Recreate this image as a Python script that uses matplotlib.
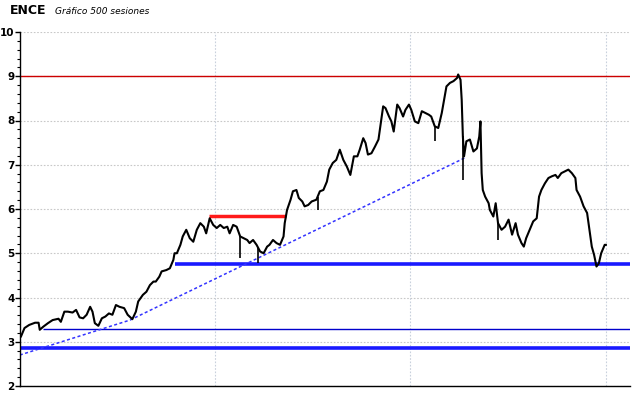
import numpy as np
import matplotlib.pyplot as plt
from matplotlib.ticker import MultipleLocator, NullFormatter

# sesiones (indice) y cierre aproximado
sesion = [0, 3, 7, 12, 15, 16, 19, 23, 27, 32, 34, 37, 40, 44, 47, 50, 53, 56, 59, 61,
          63, 66, 69, 72, 75, 78, 81, 84, 88, 91, 95, 98, 100, 104, 107, 110, 113, 115, 118, 120,
          124, 127, 130, 131, 133, 136, 138, 141, 144, 147, 150, 153, 156, 158, 161, 164, 167, 170, 173, 176,
          178, 181, 184, 187, 190, 193, 195, 198, 201, 204, 207, 210, 212, 215, 218, 221, 224, 225, 227, 230,
          232, 235, 237, 240, 242, 245, 248, 252, 255, 258, 261, 263, 266, 269, 272, 275, 278, 281, 284, 287,
          289, 292, 294, 296, 299, 302, 305, 307, 309, 311, 314, 316, 318, 321, 323, 326, 328, 331, 333, 336,
          339, 342, 345, 348, 350, 353, 356, 359, 361, 363, 366, 369, 372, 373, 375, 376, 377, 378, 380, 383,
          386, 389, 391, 392, 393, 394, 396, 399, 400, 403, 405, 407, 410, 413, 416, 419, 422, 424, 427, 429,
          431, 434, 437, 440, 442, 444, 447, 450, 453, 456, 458, 461, 464, 467, 470, 473, 474, 477, 480, 483,
          485, 487, 489, 491, 493, 495, 498, 499]
cierre = [3.12, 3.31, 3.38, 3.43, 3.43, 3.27, 3.34, 3.42, 3.49, 3.52, 3.45, 3.68, 3.68, 3.66, 3.72, 3.55, 3.53, 3.61, 3.79, 3.68,
          3.42, 3.36, 3.53, 3.57, 3.64, 3.61, 3.83, 3.79, 3.76, 3.61, 3.51, 3.68, 3.91, 4.06, 4.13, 4.28, 4.36, 4.36, 4.47, 4.59,
          4.62, 4.66, 4.85, 5.00, 5.00, 5.19, 5.38, 5.53, 5.34, 5.26, 5.53, 5.68, 5.60, 5.45, 5.79, 5.64, 5.57, 5.64, 5.57, 5.60,
          5.45, 5.64, 5.60, 5.38, 5.34, 5.30, 5.23, 5.30, 5.19, 5.04, 5.00, 5.15, 5.19, 5.30, 5.23, 5.19, 5.38, 5.68, 5.98, 6.21,
          6.40, 6.43, 6.25, 6.17, 6.06, 6.09, 6.17, 6.21, 6.40, 6.43, 6.62, 6.89, 7.04, 7.11, 7.34, 7.11, 6.96, 6.77, 7.19, 7.19,
          7.34, 7.60, 7.49, 7.23, 7.26, 7.41, 7.57, 7.94, 8.32, 8.28, 8.09, 7.98, 7.75, 8.36, 8.28, 8.09, 8.24, 8.36, 8.24, 7.98,
          7.94, 8.21, 8.17, 8.13, 8.09, 7.87, 7.83, 8.17, 8.47, 8.77, 8.85, 8.89, 8.96, 9.04, 8.92, 8.47, 7.64, 7.19, 7.53, 7.57,
          7.30, 7.37, 7.64, 7.98, 6.81, 6.43, 6.28, 6.13, 5.98, 5.83, 6.13, 5.68, 5.53, 5.60, 5.76, 5.42, 5.68, 5.42, 5.23, 5.15,
          5.34, 5.53, 5.72, 5.79, 6.28, 6.43, 6.58, 6.70, 6.74, 6.77, 6.70, 6.81, 6.85, 6.89, 6.81, 6.70, 6.43, 6.28, 6.06, 5.91,
          5.53, 5.15, 4.96, 4.70, 4.77, 5.00, 5.19, 5.19]

# mechas sueltas (minimos puntuales)
mecha_sesion = [202, 187, 353, 377, 407, 253]
mecha_min = [4.78, 4.89, 7.53, 6.66, 5.30, 5.98]

# niveles horizontales
soporte_grueso = [4.75, 2.86]
soporte_desde = [131, -1]
soporte_fino = 3.29
soporte_fino_desde = 19
resist_max = 9.0
resist_corta = 5.85
resist_corta_rango = [160, 226]

# directriz (trendline) en dos tramos
tend_s = [-1, 93, 379]
tend_v = [2.70, 3.49, 7.16]

fig = plt.figure(figsize=(6.4, 3.98), dpi=100)
ax = fig.add_axes([20 / 640, 1 - 386 / 398, 610 / 640, 354 / 398])

ax.set_xlim(-0.85, 519.6)
ax.set_ylim(2, 10)

# rejilla punteada
for yv in range(2, 11):
    ax.axhline(yv, color='#c8c8c8', lw=0.8, ls=(0, (1.5, 1.5)), zorder=0)
for xv in [165.5, 332, 499]:
    ax.axvline(xv, color='#c8d0dc', lw=0.8, ls=(0, (1.5, 1.5)), zorder=0)

ax.axhline(resist_max, color='#cc0000', lw=1.0, zorder=2)
ax.hlines(resist_corta, resist_corta_rango[0], resist_corta_rango[1], color='#ff1a1a', lw=2.5, zorder=2)
for lvl, desde in zip(soporte_grueso, soporte_desde):
    ax.hlines(lvl, desde, 519.6, color='#1a1aff', lw=2.6, zorder=2)
ax.hlines(soporte_fino, soporte_fino_desde, 519.6, color='#0000cc', lw=1.0, zorder=2)
ax.plot(tend_s, tend_v, color='#3333ff', lw=1.1, ls=(0, (2, 1.6)), zorder=2)

ax.plot(sesion, cierre, color='black', lw=1.5, zorder=3)
for s, lo in zip(mecha_sesion, mecha_min):
    base = np.interp(s, sesion, cierre)
    ax.vlines(s, lo, base, color='black', lw=1.2, zorder=3)

for side in ['top', 'right']:
    ax.spines[side].set_visible(False)
ax.spines['left'].set_linewidth(1.0)
ax.spines['bottom'].set_linewidth(1.0)

ax.set_xticks([])
ax.yaxis.set_major_locator(MultipleLocator(1))
ax.yaxis.set_minor_locator(MultipleLocator(0.2))
ax.yaxis.set_minor_formatter(NullFormatter())
ax.tick_params(axis='y', which='major', length=3.5, width=1, direction='out', pad=0.5,
               labelsize=7.5)
ax.tick_params(axis='y', which='minor', length=2.5, width=0.8, direction='out')
for lab in ax.get_yticklabels():
    lab.set_fontweight('bold')

fig.text(10 / 640, 1 - 10 / 398, 'ENCE', fontsize=9, fontweight='bold', va='center', ha='left')
fig.text(55 / 640, 1 - 11 / 398, 'Gráfico 500 sesiones', fontsize=6.5, fontstyle='italic',
         va='center', ha='left')

fig.savefig('out.png', dpi=100)
